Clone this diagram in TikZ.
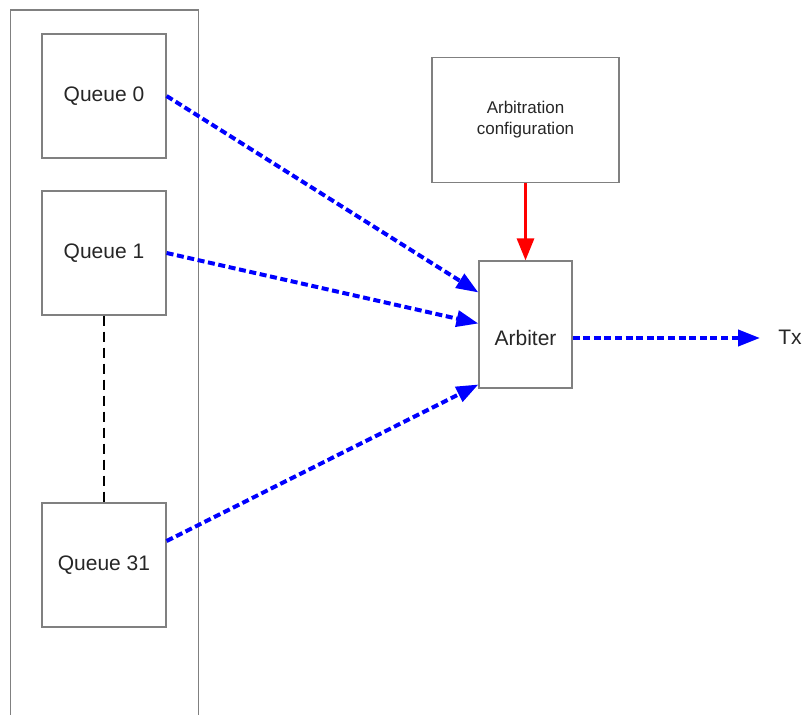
\documentclass[tikz,border=0pt]{standalone}
\usepackage{fontspec}
\setmainfont{Liberation Sans}
\usetikzlibrary{arrows.meta}
\tikzset{
  block/.style={draw=gray, line width=0.6pt, inner sep=0pt, text=black!85, font=\fontsize{10.5}{12.5}\selectfont},
  queue/.style={block, minimum width=62pt, minimum height=62pt},
  config/.style={block, minimum width=93.5pt, minimum height=62.5pt, align=center, font=\fontsize{8.5}{10.5}\selectfont},
  arbiter/.style={block, minimum width=46.5pt, minimum height=63.5pt},
  panel/.style={draw=gray, line width=0.6pt},
  dataflow/.style={blue, line width=2pt, dash pattern=on 3.5pt off 1.8pt, -{Triangle[length=11pt,width=8pt]}},
  control/.style={red, line width=1.5pt, -{Triangle[length=11pt,width=8.5pt]}},
  gapline/.style={black, line width=1pt, dash pattern=on 5pt off 3pt}
}
\begin{document}
\begin{tikzpicture}[x=0.5pt, y=-0.5pt]
  \useasboundingbox (0,0) rectangle (802,715);
  % queue panel, open at the bottom
  \draw[panel] (10.5,720) |- (198.5,10) -- (198.5,720);

  \node[queue] (q0) at (104,96) {Queue 0};
  \node[queue] (q1) at (104,253) {Queue 1};
  \node[queue] (q31) at (104,565) {Queue 31};
  \draw[gapline] (q1.south) -- (q31.north);

  \node[config] (cfg) at (525.5,120) {Arbitration\\configuration};
  \node[arbiter, label={[yshift=-6.75pt, font=\fontsize{10.5}{12.5}\selectfont, text=black!85]center:Arbiter}] (arb) at (525.5,324.5) {};
  \coordinate (txout) at ([yshift=-6.75pt]arb.east);
  \node[anchor=west, inner sep=0pt, text=black!85, font=\fontsize{10.5}{12.5}\selectfont] (tx) at (778,337) {Tx};

  \draw[control] (cfg.south) -- (arb.north);
  \draw[dataflow] (q0.east) -- ([yshift=16pt]arb.west);
  \draw[dataflow] (q1.east) -- ([yshift=0.5pt]arb.west);
  \draw[dataflow] ([yshift=12pt]q31.east) -- ([yshift=-30pt]arb.west);
  \draw[dataflow] (txout) -- ([xshift=-9pt]tx.west |- txout);
\end{tikzpicture}
\end{document}
